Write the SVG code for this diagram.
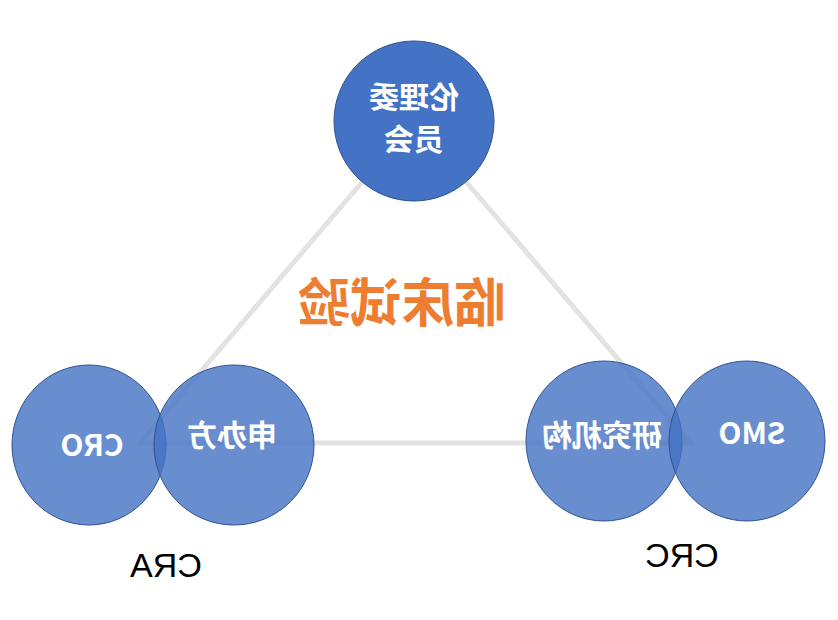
<svg xmlns="http://www.w3.org/2000/svg" width="838" height="620" viewBox="0 0 838 620">
<style>
.c{fill:#4472C4;fill-opacity:0.8;stroke:#2F528F;stroke-width:1}
.t{fill:#fff;font-family:"Noto Sans CJK SC","Liberation Sans",sans-serif;font-size:30px;font-weight:bold;text-anchor:middle}
.l{fill:#000;font-family:"Liberation Sans",sans-serif;font-size:34px;text-anchor:middle}
</style>
<rect width="838" height="620" fill="#fff"/>
<g id="connectors">
<polygon points="414,121 140,443 690,443" fill="none" stroke="#E3E3E3" stroke-width="5"/>
</g>
<g id="top"><circle cx="414" cy="121" r="80" fill="#4472C4" stroke="#2F528F"/>
<text class="t" transform="translate(414,108) scale(-1,1)">伦理委</text>
<text class="t" transform="translate(414,150) scale(-1,1)">员会</text></g>
<g id="title"><text transform="translate(402,322) scale(-1,1)" fill="#ED7D31" font-family="Noto Sans CJK SC,sans-serif" font-size="52" font-weight="bold" text-anchor="middle">临床试验</text></g>
<g id="cro"><ellipse class="c" cx="89" cy="445" rx="77" ry="80"/>
<text class="t" transform="translate(92,456) scale(-1,1)">CRO</text></g>
<g id="sponsor"><ellipse class="c" cx="234" cy="445" rx="80" ry="80"/>
<text class="t" transform="translate(232,446) scale(-1,1)">申办方</text></g>
<g id="site"><ellipse class="c" cx="604" cy="441" rx="78" ry="80"/>
<text class="t" transform="translate(602,446) scale(-1,1)">研究机构</text></g>
<g id="smo"><ellipse class="c" cx="747" cy="441" rx="78" ry="80"/>
<text class="t" transform="translate(752,444) scale(-1,1)">SMO</text></g>
<g id="cra"><text class="l" transform="translate(166,577) scale(-1,1)">CRA</text></g>
<g id="crc"><text class="l" transform="translate(682,567) scale(-1,1)">CRC</text></g>
</svg>
